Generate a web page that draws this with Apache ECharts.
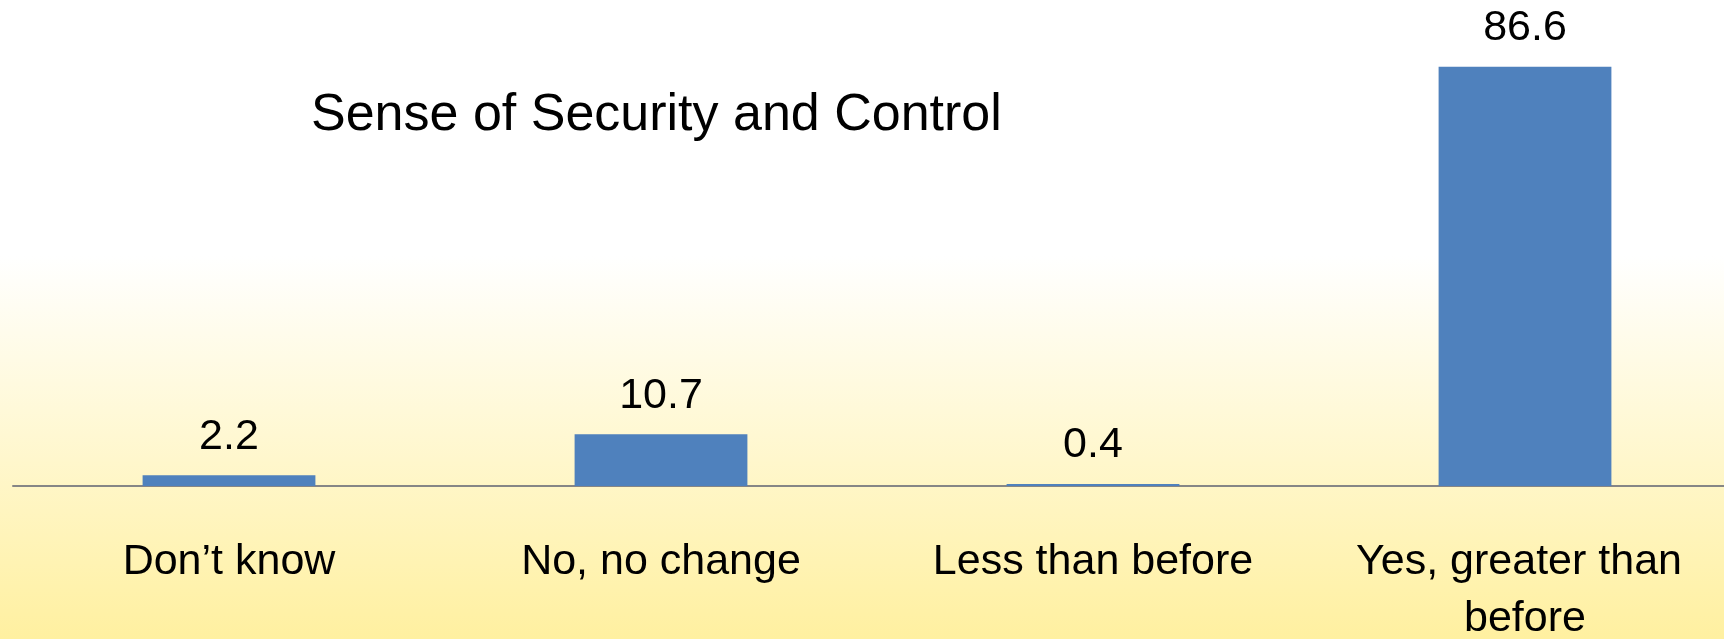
<!DOCTYPE html>
<html>
<head>
<meta charset="utf-8">
<script src="https://cdn.jsdelivr.net/npm/echarts@6/dist/echarts.min.js"></script>
<style>
html,body{margin:0;padding:0;}
#c{width:1724px;height:639px;}
</style>
</head>
<body>
<div id="c"></div>
<script>
const titleText = "Sense of Security and Control";
const categories = ["Don’t know", "No, no change", "Less than before", "Yes, greater than before"];
const values = [2.2, 10.7, 0.4, 86.6];

const chart = echarts.init(document.getElementById('c'), null, {renderer: 'canvas'});
const FONT = '"Liberation Sans", Arial, sans-serif';
chart.setOption({
  backgroundColor: {
    type: 'linear', x: 0, y: 0, x2: 0, y2: 1,
    colorStops: [
      {offset: 0, color: '#ffffff'},
      {offset: 0.4, color: '#ffffff'},
      {offset: 1, color: '#fff0a0'}
    ]
  },
  title: {
    text: titleText,
    left: 311,
    top: 90,
    padding: 0,
    textStyle: {fontFamily: FONT, fontSize: 52, fontWeight: 'normal', color: '#000', lineHeight: 52}
  },
  grid: {left: 13, top: 2, width: 1728, height: 484, containLabel: false, outerBoundsMode: 'none'},
  xAxis: {
    type: 'category',
    data: categories,
    axisLine: {show: true, lineStyle: {color: '#868686', width: 2}},
    axisTick: {show: false},
    axisLabel: {
      interval: 0, margin: 48, color: '#000', fontFamily: FONT, fontSize: 43,
      lineHeight: 57, width: 400, overflow: 'break'
    },
    splitLine: {show: false}
  },
  yAxis: {type: 'value', min: 0, max: 100, show: false},
  series: [{
    type: 'bar',
    data: values,
    barWidth: '40%',
    itemStyle: {color: '#4f81bd'},
    label: {
      show: true, position: 'top', distance: 17, color: '#000',
      fontFamily: FONT, fontSize: 43, lineHeight: 43
    }
  }],
  animation: false
});
</script>
</body>
</html>
